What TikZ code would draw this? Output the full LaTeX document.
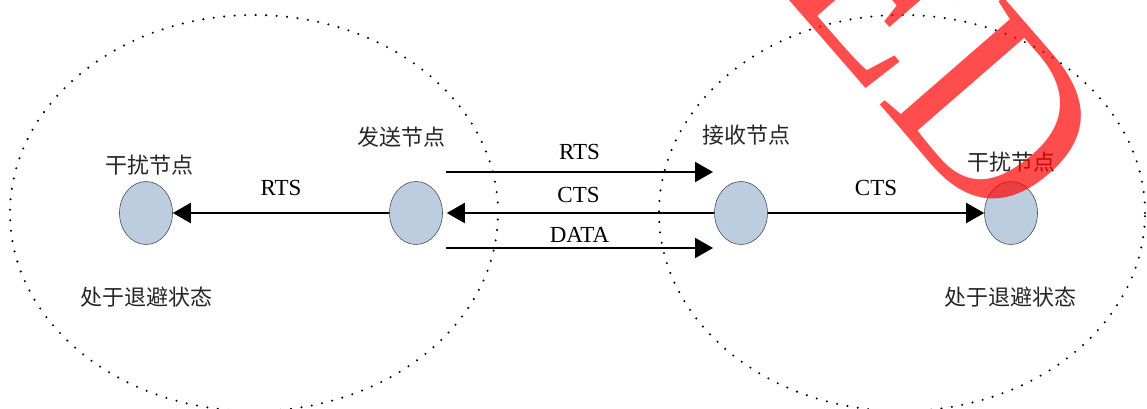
\documentclass[tikz,border=0pt]{standalone}
\usepackage{fontspec}
\setmainfont{Liberation Serif}
\newfontfamily\cjk{Noto Sans CJK SC}
\usetikzlibrary{shapes.geometric,arrows.meta}
\definecolor{nodefill}{RGB}{188,205,224}
\begin{document}
\begin{tikzpicture}[x=1pt,y=-1pt,>={Triangle[length=18pt,width=20pt]}]
        \tikzstyle{station}=[ellipse,draw=black!70,line width=0.6pt,fill=nodefill,minimum width=53pt,minimum height=63pt,inner sep=0pt]
        \tikzstyle{edge}=[draw,->,line width=2pt]
        \tikzstyle{cover}=[line width=2.3pt,dash pattern=on 0pt off 10.5pt,line cap=round]
        \tikzstyle{zh}=[font=\cjk\fontsize{22}{22}\selectfont,text=black!85]
        \tikzstyle{msg}=[font=\fontsize{23}{23}\selectfont]
        \useasboundingbox (0,0) rectangle (1147,409);

        % communication ranges
        \draw[cover] (254,213) ellipse [x radius=244pt, y radius=198pt];
        \draw[cover] (902,213) ellipse [x radius=243pt, y radius=198pt];

        \node [station] (itf1) at (146,213) {};
        \node [station] (snd) at (416,213) {};
        \node [station] (rcv) at (741,213) {};
        \node [station] (itf2) at (1011,213) {};

        \coordinate (rtsa) at (446,172);
        \coordinate (rtsb) at (713,172);
        \coordinate (dataa) at (446,248);
        \coordinate (datab) at (713,248);

        \node [zh] (litf1) at (149,165) {干扰节点};
        \node [zh] (lsnd) at (401,137) {发送节点};
        \node [zh] (lrcv) at (746,135) {接收节点};
        \node [zh] (litf2) at (1011,162) {干扰节点};
        \node [zh] (wait1) at (146,297) {处于退避状态};
        \node [zh] (wait2) at (1010,297) {处于退避状态};

        \draw[edge] (snd) -- node[msg,yshift=25pt] {RTS} (itf1);
        \draw[edge] (rtsa) -- node[msg,yshift=20pt] {RTS} (rtsb);
        \draw[edge,shorten >=4pt] (rcv) -- node[msg,yshift=18pt] {CTS} (snd);
        \draw[edge] (dataa) -- node[msg,yshift=13pt] {DATA} (datab);
        \draw[edge] (rcv) -- node[msg,yshift=25pt] {CTS} (itf2);

        % stamp
        \node [rotate=-49,anchor=base west,inner sep=0pt,text=red,text opacity=0.7,font=\fontsize{250}{250}\selectfont] (stamp) at (775,-16) {ED};
\end{tikzpicture}
\end{document}
